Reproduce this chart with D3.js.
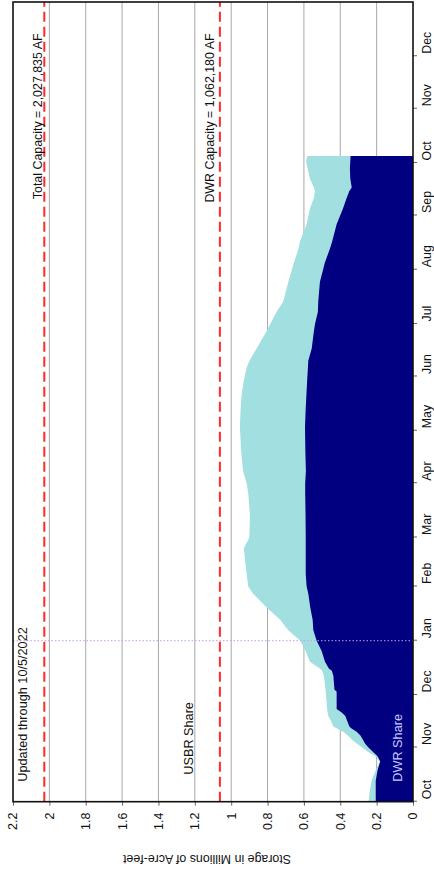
<!DOCTYPE html>
<html>
<head>
<meta charset="utf-8">
<script src="https://cdn.jsdelivr.net/npm/d3@7"></script>
<style>
  html, body { margin: 0; padding: 0; background: #fff; }
  svg { display: block; }
  text { font-family: "Liberation Sans", Arial, sans-serif; }
</style>
</head>
<body>
<div id="chart"></div>
<script>
// ---- Data (storage in millions of acre-feet) ----
const dates = [
  "2021-10-01","2021-10-07","2021-10-13","2021-10-19","2021-10-24","2021-10-27","2021-10-29",
  "2021-11-01","2021-11-03","2021-11-05","2021-11-08","2021-11-10","2021-11-12","2021-11-13",
  "2021-11-17","2021-11-19","2021-11-21","2021-11-23","2021-11-30","2021-12-03","2021-12-04",
  "2021-12-12","2021-12-15","2021-12-16","2021-12-20","2021-12-26","2022-01-01","2022-01-07",
  "2022-01-13","2022-01-20","2022-01-28","2022-02-01","2022-02-08","2022-02-16","2022-02-23",
  "2022-03-01","2022-03-14","2022-03-26","2022-04-01","2022-04-08","2022-04-19","2022-05-03",
  "2022-05-14","2022-05-22","2022-05-30","2022-06-06","2022-06-10","2022-06-17","2022-06-27",
  "2022-07-01","2022-07-08","2022-07-14","2022-07-25","2022-08-05","2022-08-13","2022-08-17",
  "2022-08-27","2022-09-05","2022-09-11","2022-09-15","2022-09-17","2022-09-22","2022-09-28",
  "2022-10-02","2022-10-05"
];
const totalStorage = [
  0.245,0.238,0.228,0.205,0.183,0.205,0.240,
  0.280,0.305,0.330,0.360,0.383,0.420,0.438,
  0.455,0.466,0.470,0.472,0.478,0.480,0.481,
  0.490,0.500,0.510,0.567,0.590,0.620,0.686,
  0.730,0.805,0.880,0.906,0.915,0.924,0.930,
  0.900,0.897,0.906,0.915,0.935,0.945,0.952,
  0.948,0.942,0.930,0.915,0.900,0.860,0.805,
  0.785,0.750,0.713,0.686,0.655,0.630,0.622,
  0.585,0.567,0.545,0.539,0.545,0.567,0.580,
  0.588,0.581
];
const dwrStorage = [
  0.205,0.205,0.205,0.195,0.180,0.195,0.215,
  0.245,0.262,0.273,0.290,0.310,0.340,0.350,
  0.365,0.372,0.392,0.420,0.420,0.420,0.432,
  0.438,0.447,0.462,0.484,0.502,0.530,0.548,
  0.552,0.565,0.576,0.585,0.590,0.590,0.590,
  0.590,0.591,0.593,0.593,0.589,0.592,0.594,
  0.590,0.586,0.582,0.578,0.576,0.557,0.545,
  0.539,0.523,0.521,0.512,0.485,0.457,0.445,
  0.420,0.385,0.365,0.350,0.337,0.345,0.347,
  0.345,0.343
];
const yTickValues = [0,0.2,0.4,0.6,0.8,1,1.2,1.4,1.6,1.8,2,2.2];
const yTickLabels = ["0","0.2","0.4","0.6","0.8","1","1.2","1.4","1.6","1.8","2","2.2"];
const monthLabels = ["Oct","Nov","Dec","Jan","Feb","Mar","Apr","May","Jun","Jul","Aug","Sep","Oct","Nov","Dec"];
const totalCapacity = 2.027835;
const dwrCapacity = 1.062180;
const markerDate = "2022-01-01";
const capacityLabelEndDate = "2022-12-14";
const totalCapacityLabel = "Total Capacity = 2,027,835 AF";
const dwrCapacityLabel = "DWR Capacity = 1,062,180 AF";
const updatedLabel = "Updated through 10/5/2022";
const usbrLabel = "USBR Share";
const dwrLabel = "DWR Share";
const yTitle = "Storage in Millions of Acre-feet";

// ---- Layout (drawn landscape, then rotated -90deg) ----
const pageW = 434, pageH = 875;
const W = pageH, H = pageW;            // landscape frame
const m = { left: 73.3, right: 2, top: 13, bottom: 21 };

const parse = d3.utcParse("%Y-%m-%d");
const data = dates.map((d, i) => ({ date: parse(d), total: totalStorage[i], dwr: dwrStorage[i] }));

const x = d3.scaleUtc()
  .domain([Date.UTC(2021, 9, 1), Date.UTC(2023, 0, 1)])
  .range([m.left, W - m.right]);
const y = d3.scaleLinear().domain([0, 2.2]).range([H - m.bottom, m.top]);

const svg = d3.select("#chart").append("svg")
  .attr("width", pageW).attr("height", pageH);
svg.append("rect").attr("width", pageW).attr("height", pageH).attr("fill", "#fff");

const g = svg.append("g").attr("transform", `translate(0,${pageH}) rotate(-90)`);

// gridlines
g.append("g").selectAll("line")
  .data(yTickValues.filter(v => v > 0 && v < 2.2))
  .join("line")
  .attr("x1", m.left).attr("x2", W - m.right)
  .attr("y1", d => y(d)).attr("y2", d => y(d))
  .attr("stroke", "#a8a8a8").attr("stroke-width", 1);

// areas
const areaTotal = d3.area().x(d => x(d.date)).y0(y(0)).y1(d => y(d.total));
const areaDwr = d3.area().x(d => x(d.date)).y0(y(0)).y1(d => y(d.dwr));
g.append("path").datum(data).attr("d", areaTotal).attr("fill", "#a2dfe0");
g.append("path").datum(data).attr("d", areaDwr).attr("fill", "#000080");

// capacity lines
[totalCapacity, dwrCapacity].forEach(v => {
  g.append("line")
    .attr("x1", m.left).attr("x2", W - m.right)
    .attr("y1", y(v)).attr("y2", y(v))
    .attr("stroke", "#ff2a2a").attr("stroke-width", 2)
    .attr("stroke-dasharray", "10,5");
});

// date marker
g.append("line")
  .attr("x1", x(parse(markerDate))).attr("x2", x(parse(markerDate)))
  .attr("y1", m.top).attr("y2", H - m.bottom)
  .attr("stroke", "#c39be0").attr("stroke-width", 1)
  .attr("stroke-dasharray", "1.5,2");

// axes
const yAxis = d3.axisLeft(y).tickValues(yTickValues)
  .tickFormat((d, i) => yTickLabels[i]).tickSize(4).tickPadding(7);
const ya = g.append("g").attr("transform", `translate(${m.left},0)`).call(yAxis);
ya.select(".domain").remove();
ya.selectAll("line").attr("stroke", "#666");
ya.selectAll("text").attr("font-size", 12.4).attr("fill", "#111")
  .attr("font-family", '"Liberation Sans", Arial, sans-serif');

const monthTicks = d3.utcMonth.range(x.domain()[0], x.domain()[1]);
const xAxis = d3.axisBottom(x).tickValues(monthTicks)
  .tickFormat((d, i) => monthLabels[i]).tickSize(4).tickPadding(5);
const xa = g.append("g").attr("transform", `translate(0,${H - m.bottom})`).call(xAxis);
xa.select(".domain").remove();
xa.selectAll("line").attr("stroke", "#666");
xa.selectAll("text").attr("font-size", 12.4).attr("fill", "#111")
  .attr("text-anchor", "start").attr("dx", 2)
  .attr("font-family", '"Liberation Sans", Arial, sans-serif');

// frame
g.append("rect")
  .attr("x", m.left).attr("y", m.top)
  .attr("width", W - m.right - m.left).attr("height", H - m.bottom - m.top)
  .attr("fill", "none").attr("stroke", "#111").attr("stroke-width", 1.6);

// labels
const fs = 12.4;
const labelEnd = x(parse(capacityLabelEndDate));
g.append("text").attr("x", labelEnd).attr("y", y(totalCapacity) - 2.5)
  .attr("text-anchor", "end").attr("font-size", fs).attr("fill", "#111").text(totalCapacityLabel);
g.append("text").attr("x", labelEnd).attr("y", y(dwrCapacity) - 6)
  .attr("text-anchor", "end").attr("font-size", fs).attr("fill", "#111").text(dwrCapacityLabel);
g.append("text").attr("x", m.left + 20).attr("y", 27)
  .attr("font-size", 12.7).attr("fill", "#111").text(updatedLabel);
g.append("text").attr("x", m.left + 27).attr("y", 193)
  .attr("font-size", 12.7).attr("fill", "#111").text(usbrLabel);
g.append("text").attr("x", m.left + 20).attr("y", 401.5)
  .attr("font-size", 12.7).attr("fill", "#c8c8ff").text(dwrLabel);

// y-axis title
g.append("text")
  .attr("transform", `translate(17,${(m.top + H - m.bottom) / 2 - 6}) rotate(-90)`)
  .attr("text-anchor", "middle").attr("dominant-baseline", "middle")
  .attr("font-size", 12.4).attr("fill", "#111").text(yTitle);
</script>
</body>
</html>
